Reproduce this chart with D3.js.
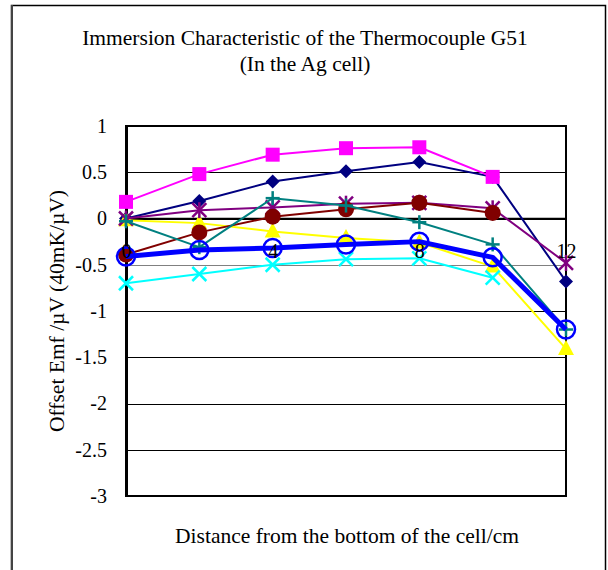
<!DOCTYPE html>
<html>
<head>
<meta charset="utf-8">
<script src="https://cdn.jsdelivr.net/npm/d3@7"></script>
<style>
    body { margin: 0; background: white; }
    text { font-family: "Liberation Serif", "Times New Roman", serif; fill: black; }
</style>
</head>
<body>
<div id="my_dataviz"></div>
<script>
// Distance from the bottom of the cell (cm)
const distances = [0, 2, 4, 6, 8, 10, 12];
const xTickLabels = [0, 4, 8, 12];
const yTicks = [1, 0.5, 0, -0.5, -1, -1.5, -2, -2.5, -3];

// Offset emf values, one array per run (null = not measured)
const run1 = [0.00, 0.19, 0.40, 0.51, 0.61, 0.45, -0.68];
const run2 = [0.18, 0.48, 0.69, 0.76, 0.77, 0.45, null];
const run3 = [-0.02, -0.05, -0.14, -0.21, -0.26, -0.52, -1.41];
const run4 = [-0.70, -0.60, -0.50, -0.44, -0.43, -0.64, null];
const run5 = [0.00, 0.09, 0.12, 0.16, 0.17, 0.11, -0.48];
const run6 = [-0.39, -0.15, 0.02, 0.10, 0.17, 0.06, null];
const run7 = [-0.03, -0.31, 0.22, 0.14, -0.04, -0.28, -1.20];
const run8 = [-0.41, -0.34, -0.32, -0.28, -0.25, -0.42, -1.20];

const series = [
    {values: run1, color: "#000080", marker: "diamond", width: 2},
    {values: run2, color: "#FF00FF", marker: "square", width: 2},
    {values: run3, color: "#FFFF00", marker: "triangle", width: 2},
    {values: run4, color: "#00FFFF", marker: "x", width: 2},
    {values: run5, color: "#800080", marker: "star", width: 2},
    {values: run6, color: "#800000", marker: "circle", width: 2},
    {values: run7, color: "#008080", marker: "plus", width: 2},
    {values: run8, color: "#0000FF", marker: "ring", width: 5}
];

const W = 608, H = 570;
const plot = {left: 126, top: 126, right: 566, bottom: 496};

const svg = d3.select("#my_dataviz")
    .append("svg")
        .attr("width", W)
        .attr("height", H);

// Chart area border
svg.append("rect")
    .attr("x", 11.5).attr("y", 5.5)
    .attr("width", 594).attr("height", 600)
    .attr("fill", "white")
    .attr("stroke", "black")
    .attr("stroke-width", 1.5);
svg.append("line")
    .attr("x1", 12).attr("x2", 12).attr("y1", 5).attr("y2", H)
    .attr("stroke", "#444").attr("stroke-width", 2);

// Titles
const title = svg.append("text")
    .attr("text-anchor", "middle")
    .attr("font-size", 21.5);
title.append("tspan").attr("x", 305).attr("y", 45).text("Immersion Characteristic of the Thermocouple G51");
title.append("tspan").attr("x", 305).attr("y", 71).text("(In the Ag cell)");

const x = d3.scaleLinear().domain([0, 12]).range([plot.left, plot.right]);
const y = d3.scaleLinear().domain([-3, 1]).range([plot.bottom, plot.top]);

// Gridlines
svg.append("g")
    .selectAll("line")
    .data(yTicks.filter(d => d !== 1 && d !== -3))
    .join("line")
        .attr("x1", plot.left).attr("x2", plot.right)
        .attr("y1", d => Math.round(y(d)) + 0.5)
        .attr("y2", d => Math.round(y(d)) + 0.5)
        .attr("stroke", d => d === -0.5 ? "#808080" : "black")
        .attr("stroke-width", 1);

// Plot area border
svg.append("rect")
    .attr("x", plot.left).attr("y", plot.top)
    .attr("width", plot.right - plot.left)
    .attr("height", plot.bottom - plot.top)
    .attr("fill", "none")
    .attr("stroke", "black")
    .attr("stroke-width", 2);

// Y axis
const yAxis = svg.append("g")
    .attr("transform", `translate(${plot.left},0)`)
    .call(d3.axisLeft(y).tickValues(yTicks).tickSize(0).tickPadding(19).tickFormat(d => String(d)));
yAxis.select(".domain").attr("stroke", "black").attr("stroke-width", 3);
yAxis.selectAll("text").attr("font-size", 20).attr("font-family", "Liberation Serif, serif");

svg.append("text")
    .attr("transform", `translate(64,${(plot.top + plot.bottom) / 2}) rotate(-90)`)
    .attr("text-anchor", "middle")
    .attr("font-size", 21.5)
    .text("Offset Emf /\u00B5V (40mK/\u00B5V)");

svg.append("text")
    .attr("x", 347).attr("y", 543)
    .attr("text-anchor", "middle")
    .attr("font-size", 21.5)
    .text("Distance from the bottom of the cell/cm");

// Category axis crossing at y = 0
svg.append("line")
    .attr("x1", plot.left).attr("x2", plot.right)
    .attr("y1", y(0)).attr("y2", y(0))
    .attr("stroke", "black").attr("stroke-width", 1.5);

// Series
const line = d3.line()
    .defined(d => d.v !== null)
    .x(d => x(d.x))
    .y(d => y(d.v));

function drawMarker(g, type, color) {
    const s = 7;
    if (type === "diamond") {
        g.append("path").attr("d", `M0,${-s}L${s},0L0,${s}L${-s},0Z`).attr("fill", color);
    } else if (type === "square") {
        g.append("rect").attr("x", -s).attr("y", -s).attr("width", 2 * s).attr("height", 2 * s).attr("fill", color);
    } else if (type === "triangle") {
        g.append("path").attr("d", `M0,-9L8,6L-8,6Z`).attr("fill", color);
    } else if (type === "circle") {
        g.append("circle").attr("r", 8).attr("fill", color);
    } else if (type === "ring") {
        g.append("circle").attr("r", 9).attr("fill", "none").attr("stroke", color).attr("stroke-width", 2.5);
    } else {
        const segs = [];
        if (type === "x" || type === "star") segs.push([-s, -s, s, s], [-s, s, s, -s]);
        if (type === "plus") segs.push([-s, 0, s, 0], [0, -s, 0, s]);
        if (type === "star") segs.push([0, -s - 1, 0, s + 1]);
        segs.forEach(p => g.append("line")
            .attr("x1", p[0]).attr("y1", p[1]).attr("x2", p[2]).attr("y2", p[3])
            .attr("stroke", color).attr("stroke-width", 2.5));
    }
}

series.forEach(sr => {
    const pts = distances.map((d, i) => ({x: d, v: sr.values[i]}));
    const g = svg.append("g");
    g.append("path")
        .datum(pts)
        .attr("fill", "none")
        .attr("stroke", sr.color)
        .attr("stroke-width", sr.width)
        .attr("stroke-linejoin", "round")
        .attr("d", line);
    g.selectAll("g.m")
        .data(pts.filter(d => d.v !== null))
        .join("g")
            .attr("class", "m")
            .attr("transform", d => `translate(${x(d.x)},${y(d.v)})`)
            .each(function() { drawMarker(d3.select(this), sr.marker, sr.color); });
});

// Category labels (drawn over the series, under the y = 0 line)
const xAxis = svg.append("g")
    .attr("transform", `translate(0,${y(0)})`)
    .call(d3.axisBottom(x).tickValues(xTickLabels).tickSize(0).tickPadding(25).tickFormat(d => String(d)));
xAxis.select(".domain").remove();
xAxis.selectAll("text").attr("font-size", 20).attr("font-family", "Liberation Serif, serif");
</script>
</body>
</html>
